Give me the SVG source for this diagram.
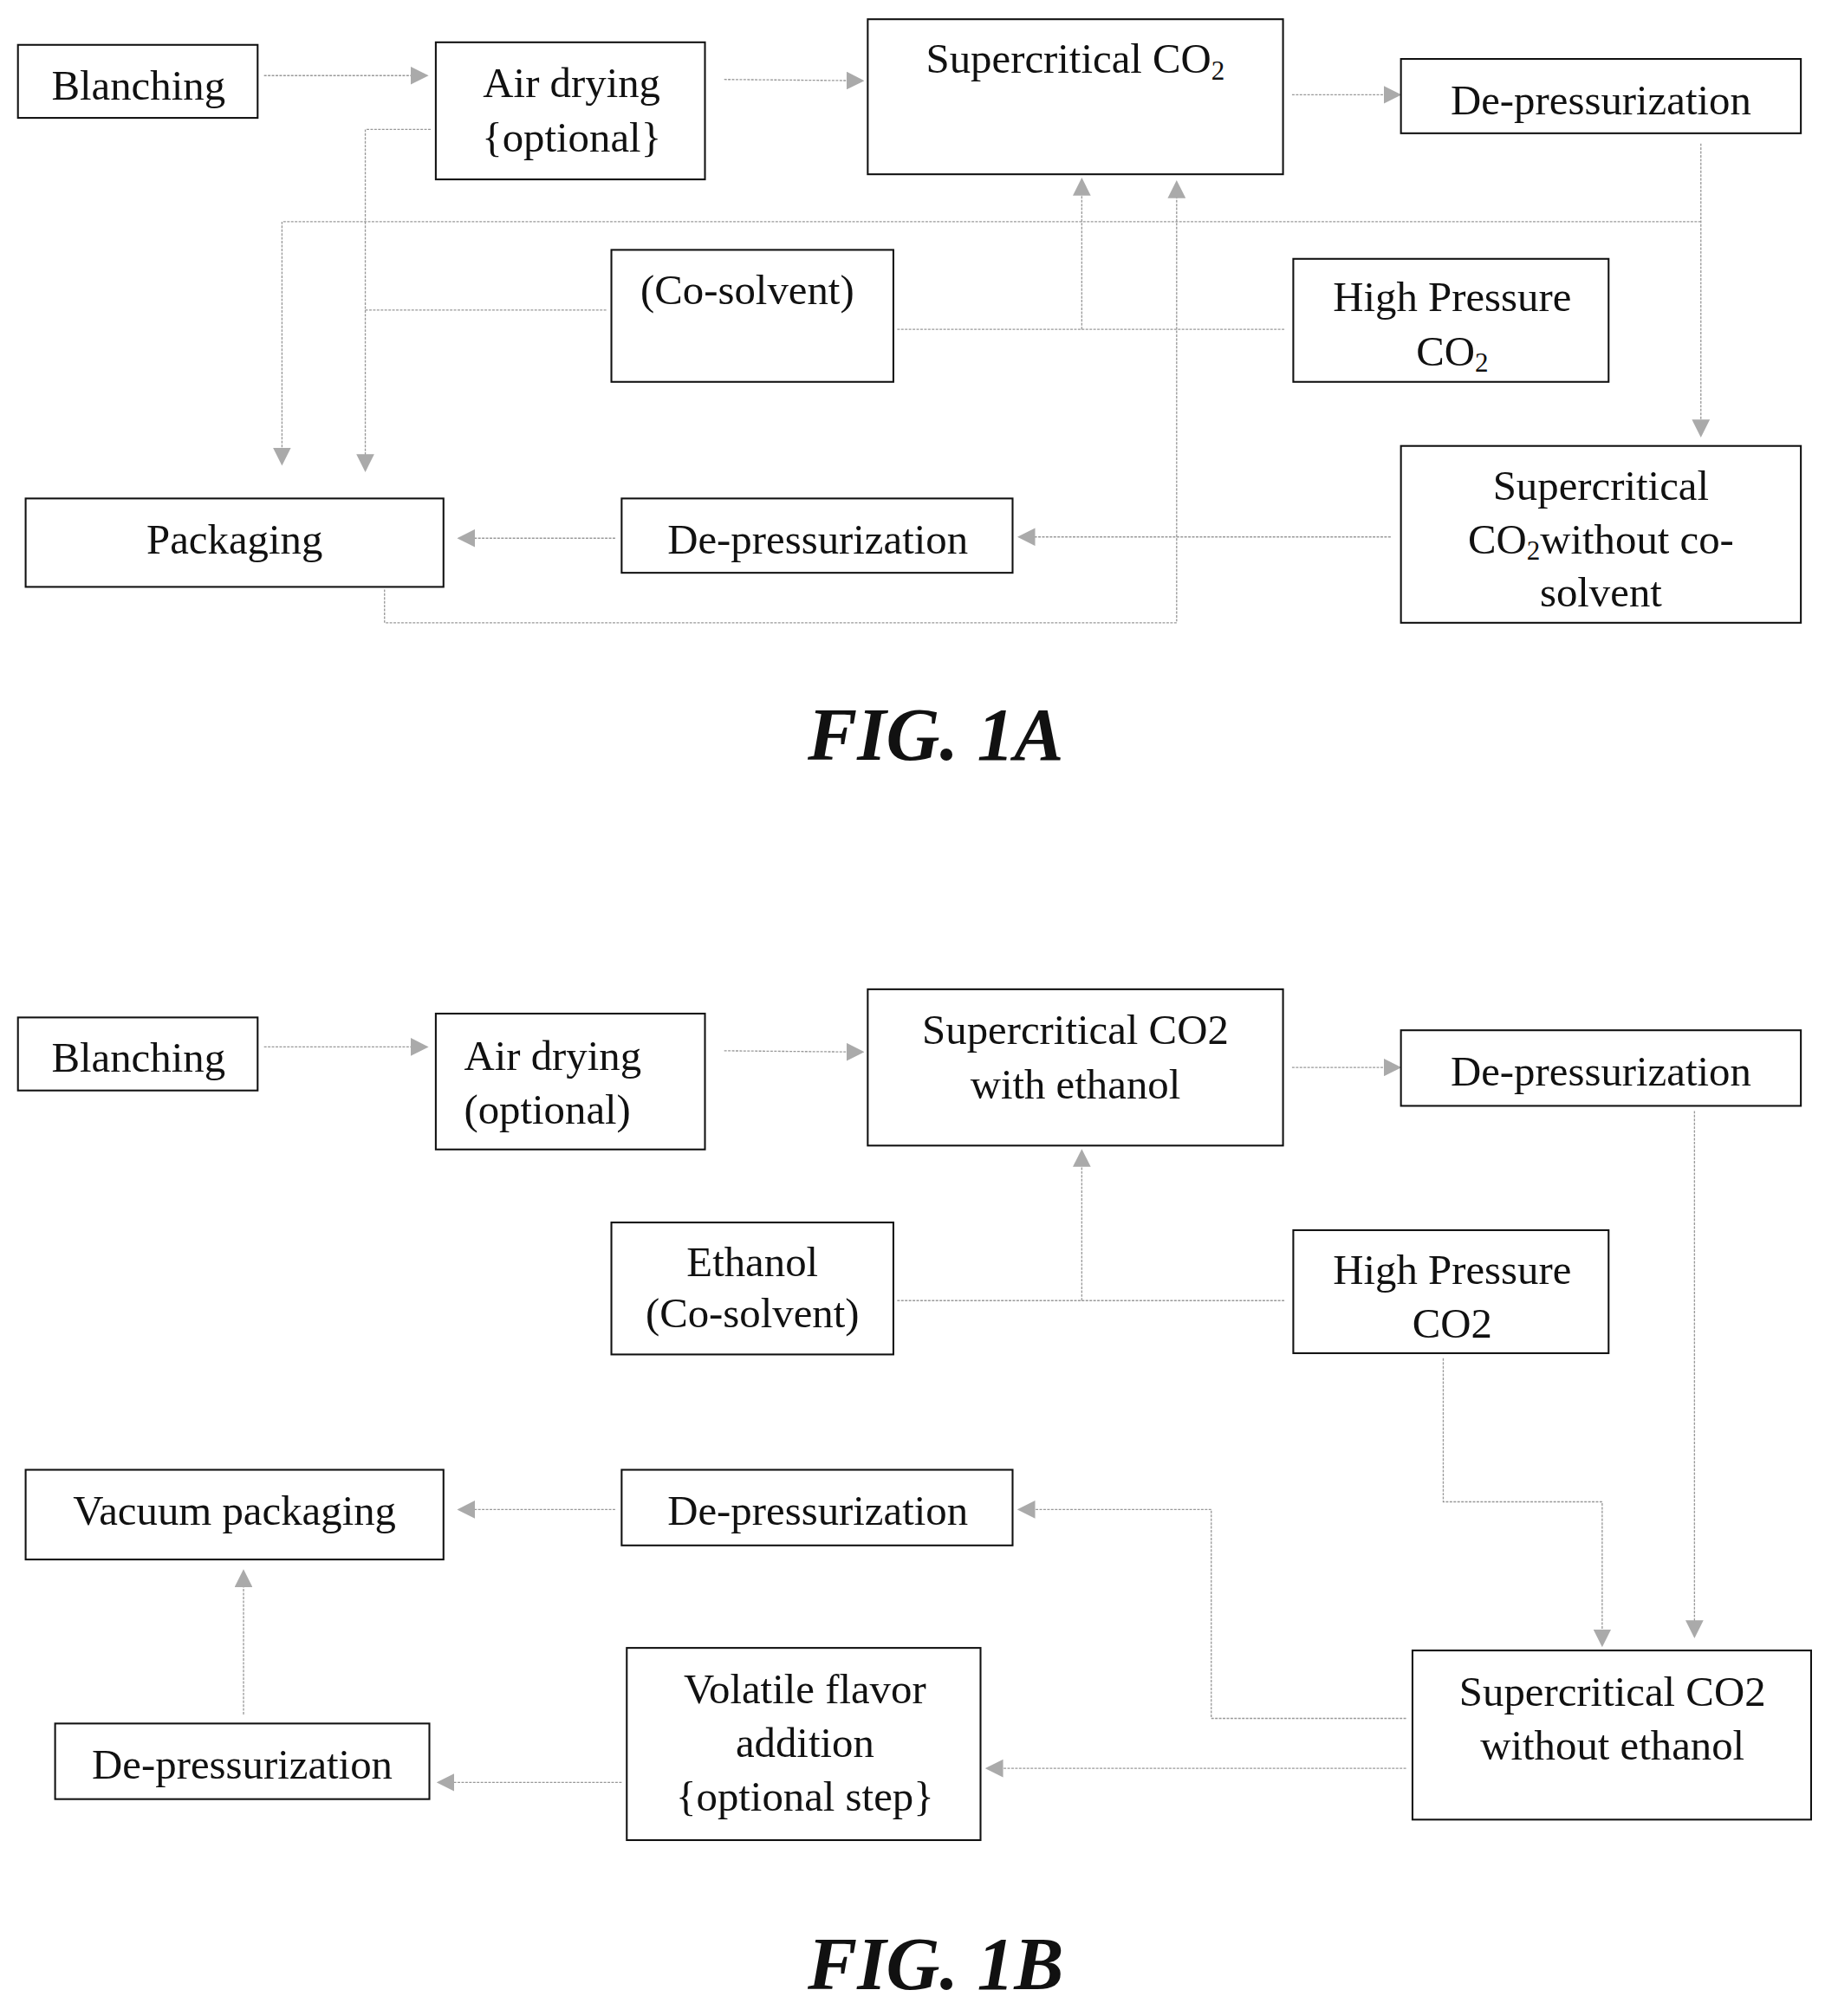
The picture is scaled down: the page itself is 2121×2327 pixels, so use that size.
<svg xmlns="http://www.w3.org/2000/svg" width="2121" height="2327" viewBox="0 0 2121 2327">
<style>
.b{fill:#fff;stroke:#111;stroke-width:1.4}
.t{font-family:"Liberation Serif",serif;font-size:33px;fill:#111;text-anchor:middle}
.st{text-anchor:start}
.l{fill:none;stroke:#999;stroke-width:0.9;stroke-dasharray:2 1}
.f{font-family:"Liberation Serif",serif;font-size:58px;font-weight:bold;font-style:italic;fill:#111;text-anchor:middle}
.s{font-size:21px}
</style>
<defs>
<marker id="a" viewBox="0 0 10 10" refX="9" refY="5" markerWidth="14" markerHeight="14" markerUnits="userSpaceOnUse" orient="auto">
<path d="M0,0L10,5L0,10z" fill="#aaa"/>
</marker>
</defs>
<rect width="2121" height="2327" fill="#fff"/>
<g transform="scale(1.4791)">
<g id="connectors">
<path class="l" d="M206,59H333" marker-end="url(#a)"/>
<path class="l" d="M565,62L673,63" marker-end="url(#a)"/>
<path class="l" d="M1008,74H1092" marker-end="url(#a)"/>
<path class="l" d="M1327,112V340" marker-end="url(#a)"/>
<path class="l" d="M1327,173H220V362" marker-end="url(#a)"/>
<path class="l" d="M336,101H285V367" marker-end="url(#a)"/>
<path class="l" d="M473,242H285"/>
<path class="l" d="M700,257H1003"/>
<path class="l" d="M844,257V140" marker-end="url(#a)"/>
<path class="l" d="M300,460V486H918V142" marker-end="url(#a)"/>
<path class="l" d="M1085,419H795" marker-end="url(#a)"/>
<path class="l" d="M480,420H358" marker-end="url(#a)"/>
<path class="l" d="M206,817H333" marker-end="url(#a)"/>
<path class="l" d="M565,820L673,821" marker-end="url(#a)"/>
<path class="l" d="M1008,833H1092" marker-end="url(#a)"/>
<path class="l" d="M1322,867V1277" marker-end="url(#a)"/>
<path class="l" d="M700,1015H1003"/>
<path class="l" d="M844,1015V898" marker-end="url(#a)"/>
<path class="l" d="M1126,1060V1172H1250V1284" marker-end="url(#a)"/>
<path class="l" d="M1097,1341H945V1178H795" marker-end="url(#a)"/>
<path class="l" d="M1097,1380H770" marker-end="url(#a)"/>
<path class="l" d="M485,1391H342" marker-end="url(#a)"/>
<path class="l" d="M190,1338V1226" marker-end="url(#a)"/>
<path class="l" d="M480,1178H358" marker-end="url(#a)"/>
</g>
<g id="a-blanching"><rect class="b" x="14" y="35" width="187" height="57"/><text class="t" x="108" y="78">Blanching</text></g>
<g id="a-airdrying"><rect class="b" x="340" y="33" width="210" height="107"/><text class="t" x="446" y="76">Air drying</text><text class="t" x="446" y="118">{optional}</text></g>
<g id="a-sc"><rect class="b" x="677" y="15" width="324" height="121"/><text class="t" x="839" y="57">Supercritical CO<tspan class="s" dy="5">2</tspan></text></g>
<g id="a-dep1"><rect class="b" x="1093" y="46" width="312" height="58"/><text class="t" x="1249" y="89">De-pressurization</text></g>
<g id="a-cosolvent"><rect class="b" x="477" y="195" width="220" height="103"/><text class="t" x="583" y="237">(Co-solvent)</text></g>
<g id="a-hp"><rect class="b" x="1009" y="202" width="246" height="96"/><text class="t" x="1133" y="243">High Pressure</text><text class="t" x="1133" y="285">CO<tspan class="s" dy="5">2</tspan></text></g>
<g id="a-scwo"><rect class="b" x="1093" y="348" width="312" height="138"/><text class="t" x="1249" y="390">Supercritical</text><text class="t" x="1249" y="432">CO<tspan class="s" dy="5">2</tspan><tspan dy="-5">without co-</tspan></text><text class="t" x="1249" y="473">solvent</text></g>
<g id="a-packaging"><rect class="b" x="20" y="389" width="326" height="69"/><text class="t" x="183" y="432">Packaging</text></g>
<g id="a-dep2"><rect class="b" x="485" y="389" width="305" height="58"/><text class="t" x="638" y="432">De-pressurization</text></g>
<text class="f" x="730" y="593">FIG. 1A</text>
<g id="b-blanching"><rect class="b" x="14" y="794" width="187" height="57"/><text class="t" x="108" y="836">Blanching</text></g>
<g id="b-airdrying"><rect class="b" x="340" y="791" width="210" height="106"/><text class="t st" x="362" y="835">Air drying</text><text class="t st" x="362" y="877">(optional)</text></g>
<g id="b-sc"><rect class="b" x="677" y="772" width="324" height="122"/><text class="t" x="839" y="815">Supercritical CO2</text><text class="t" x="839" y="857">with ethanol</text></g>
<g id="b-dep1"><rect class="b" x="1093" y="804" width="312" height="59"/><text class="t" x="1249" y="847">De-pressurization</text></g>
<g id="b-ethanol"><rect class="b" x="477" y="954" width="220" height="103"/><text class="t" x="587" y="996">Ethanol</text><text class="t" x="587" y="1036">(Co-solvent)</text></g>
<g id="b-hp"><rect class="b" x="1009" y="960" width="246" height="96"/><text class="t" x="1133" y="1002">High Pressure</text><text class="t" x="1133" y="1044">CO2</text></g>
<g id="b-vacuum"><rect class="b" x="20" y="1147" width="326" height="70"/><text class="t" x="183" y="1190">Vacuum packaging</text></g>
<g id="b-dep2"><rect class="b" x="485" y="1147" width="305" height="59"/><text class="t" x="638" y="1190">De-pressurization</text></g>
<g id="b-scwo"><rect class="b" x="1102" y="1288" width="311" height="132"/><text class="t" x="1258" y="1331">Supercritical CO2</text><text class="t" x="1258" y="1373">without ethanol</text></g>
<g id="b-volatile"><rect class="b" x="489" y="1286" width="276" height="150"/><text class="t" x="628" y="1329">Volatile flavor</text><text class="t" x="628" y="1371">addition</text><text class="t" x="628" y="1413">{optional step}</text></g>
<g id="b-dep3"><rect class="b" x="43" y="1345" width="292" height="59"/><text class="t" x="189" y="1388">De-pressurization</text></g>
<text class="f" x="730" y="1552">FIG. 1B</text>
</g>
</svg>
